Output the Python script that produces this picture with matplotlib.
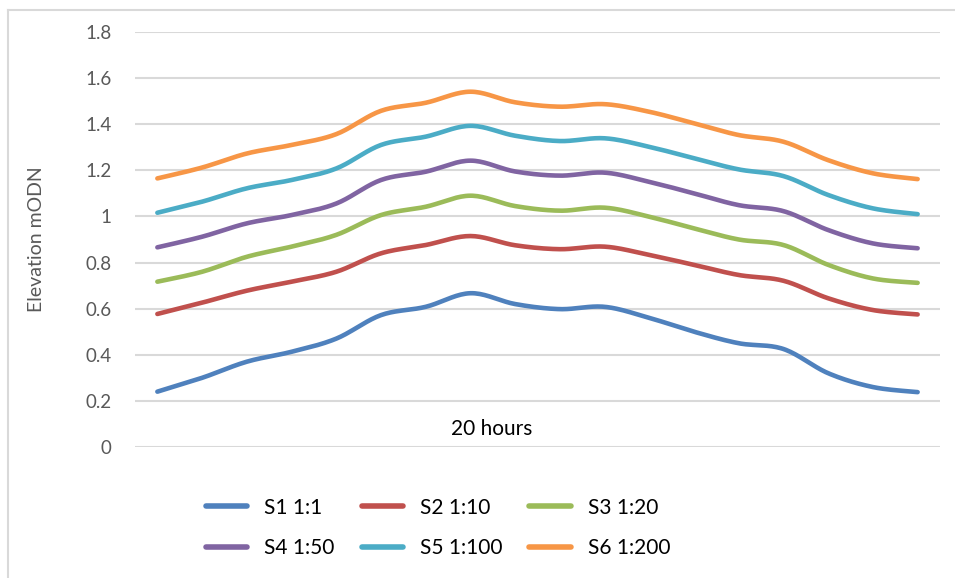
import numpy as np
import matplotlib.pyplot as plt
from matplotlib.lines import Line2D

plt.rcParams['font.family'] = ['Lato', 'DejaVu Sans']

# water level at each reading over the 20 hour run (mODN)
s1 = [0.24, 0.30, 0.37, 0.413, 0.47, 0.572, 0.608, 0.667, 0.62, 0.598, 0.608, 0.56,
      0.50, 0.45, 0.425, 0.32, 0.26, 0.238]
s2 = [0.577, 0.626, 0.678, 0.717, 0.76, 0.84, 0.876, 0.915, 0.875, 0.858, 0.869, 0.833,
      0.79, 0.746, 0.721, 0.645, 0.594, 0.575]
s3 = [0.717, 0.76, 0.825, 0.869, 0.92, 1.006, 1.042, 1.09, 1.045, 1.025, 1.038, 0.999,
      0.948, 0.90, 0.876, 0.79, 0.731, 0.712]
s4 = [0.866, 0.912, 0.97, 1.006, 1.056, 1.158, 1.194, 1.242, 1.195, 1.177, 1.19, 1.15,
      1.10, 1.049, 1.023, 0.941, 0.883, 0.862]
s5 = [1.016, 1.064, 1.122, 1.158, 1.208, 1.31, 1.346, 1.393, 1.35, 1.327, 1.339, 1.302,
      1.252, 1.204, 1.175, 1.093, 1.035, 1.01]
s6 = [1.165, 1.212, 1.273, 1.31, 1.357, 1.458, 1.493, 1.541, 1.495, 1.476, 1.487, 1.454,
      1.404, 1.353, 1.324, 1.244, 1.187, 1.162]

labels = ['S1 1:1', 'S2 1:10', 'S3 1:20', 'S4 1:50', 'S5 1:100', 'S6 1:200']
colors = ['#4F81BD', '#C0504D', '#9BBB59', '#8064A2', '#4BACC6', '#F79646']
yticks = [0, 0.2, 0.4, 0.6, 0.8, 1, 1.2, 1.4, 1.6, 1.8]


def smooth(y, steps=20):
    # cubic bezier through each point, catmull-rom style handles
    y = np.asarray(y, dtype=float)
    x = np.arange(len(y), dtype=float)
    xs, ys = [], []
    for i in range(len(y) - 1):
        p0 = np.array([x[max(i - 1, 0)], y[max(i - 1, 0)]])
        p1 = np.array([x[i], y[i]])
        p2 = np.array([x[i + 1], y[i + 1]])
        p3 = np.array([x[min(i + 2, len(y) - 1)], y[min(i + 2, len(y) - 1)]])
        c1 = p1 + (p2 - p0) / 6
        c2 = p2 - (p3 - p1) / 6
        t = np.linspace(0, 1, steps)[:, None]
        pts = ((1 - t) ** 3 * p1 + 3 * (1 - t) ** 2 * t * c1
               + 3 * (1 - t) * t ** 2 * c2 + t ** 3 * p2)
        xs.extend(pts[:, 0])
        ys.extend(pts[:, 1])
    return xs, ys


fig = plt.figure(figsize=(9.55, 5.78), dpi=100)
ax = fig.add_axes([135 / 955, 1 - 447 / 578, 805 / 955, 415 / 578])

for series, color in zip([s1, s2, s3, s4, s5, s6], colors):
    xs, ys = smooth(series)
    ax.plot(xs, ys, color=color, lw=3.3, solid_capstyle='round', zorder=3)

ax.set_xlim(-0.5, len(s1) - 0.5)
ax.set_ylim(0, 1.8)
ax.set_yticks(yticks)
ax.set_yticklabels([f'{v:g}' for v in yticks])
ax.set_xticks([])
ax.grid(axis='y', color='#D9D9D9', lw=1.5)
ax.set_axisbelow(True)
for side in ['top', 'right', 'left', 'bottom']:
    ax.spines[side].set_visible(False)
ax.tick_params(axis='y', length=0, pad=17, labelsize=13.5, labelcolor='#595959')
ax.set_ylabel('Elevation mODN', fontsize=14, color='#595959')
ax.yaxis.set_label_coords(-0.112, 0.5)

ax.text((492 - 135) / 805, (447 - 429) / 415, '20 hours', transform=ax.transAxes,
        ha='center', va='center', fontsize=15, color='black')

# legend fills column by column, so order handles to read across in rows
order = [0, 3, 1, 4, 2, 5]
handles = [Line2D([], [], color=colors[i], lw=4, solid_capstyle='round') for i in order]
fig.legend(handles, [labels[i] for i in order], ncol=3, loc='upper left',
           bbox_to_anchor=(187 / 955, 1 - 479 / 578), frameon=False,
           fontsize=15, handlelength=2.0, handletextpad=0.8,
           columnspacing=1.3, labelspacing=0.98)

# thin frame around the chart area
fig.add_artist(Line2D([8 / 955, 8 / 955], [0, 1 - 10 / 578], color='#D9D9D9', lw=1.5))
fig.add_artist(Line2D([8 / 955, 1], [1 - 10 / 578, 1 - 10 / 578], color='#D9D9D9', lw=1.5))

fig.savefig('out.png', dpi=100)
